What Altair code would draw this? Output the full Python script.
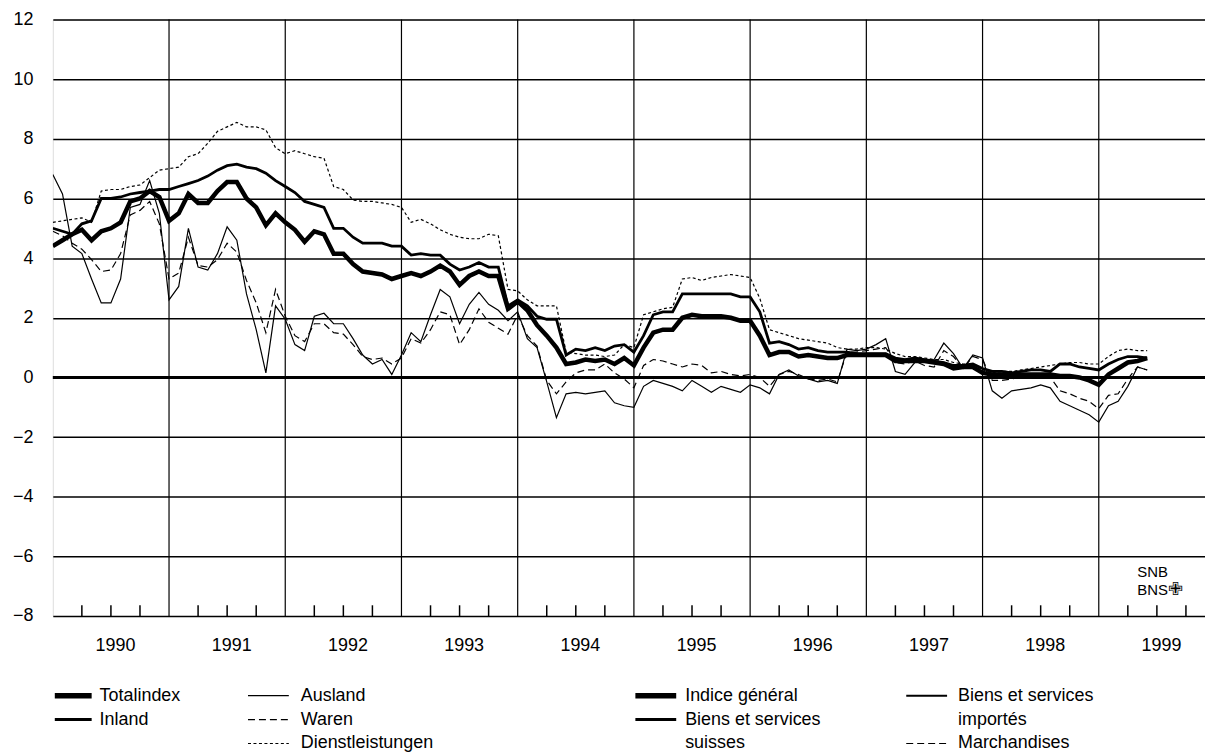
import altair as alt
import pandas as pd

# ---------------- data (monthly, Jan 1990 .. Jun 1999), % change vs. year ago
years = list(range(1990, 2000))

totalindex = [4.4,4.6,4.8,4.95,4.6,4.9,5.0,5.2,5.9,6.0,6.25,6.05,
              5.25,5.5,6.15,5.85,5.85,6.25,6.55,6.55,6.0,5.7,5.1,5.5,
              5.2,4.95,4.55,4.9,4.8,4.15,4.15,3.8,3.55,3.5,3.45,3.3,
              3.4,3.5,3.4,3.55,3.75,3.55,3.1,3.4,3.55,3.4,3.4,2.3,
              2.55,2.25,1.75,1.4,1.0,0.45,0.5,0.6,0.55,0.6,0.45,0.65,
              0.4,1.0,1.5,1.6,1.6,2.0,2.1,2.05,2.05,2.05,2.0,1.9,
              1.9,1.4,0.75,0.85,0.85,0.7,0.75,0.7,0.65,0.65,0.75,0.75,
              0.75,0.75,0.75,0.55,0.55,0.55,0.55,0.5,0.45,0.3,0.35,0.35,
              0.15,0.1,0.1,0.1,0.1,0.1,0.1,0.1,0.05,0.05,0.0,-0.1,
              -0.25,0.1,0.3,0.5,0.55,0.65]

inland = [5.0,4.9,4.8,5.15,5.25,6.0,6.0,6.05,6.15,6.2,6.25,6.3,
          6.3,6.4,6.5,6.6,6.75,6.95,7.1,7.15,7.05,7.0,6.85,6.6,
          6.4,6.2,5.9,5.8,5.7,5.0,5.0,4.7,4.5,4.5,4.5,4.4,
          4.4,4.1,4.15,4.1,4.1,3.8,3.6,3.7,3.85,3.7,3.7,2.4,
          2.6,2.4,2.05,1.95,1.95,0.75,0.95,0.9,1.0,0.9,1.05,1.1,
          0.85,1.4,2.1,2.2,2.2,2.8,2.8,2.8,2.8,2.8,2.8,2.7,
          2.7,2.2,1.15,1.2,1.1,0.95,1.0,0.9,0.85,0.85,0.85,0.8,
          0.8,0.8,0.8,0.65,0.6,0.65,0.6,0.55,0.5,0.4,0.4,0.45,
          0.3,0.2,0.2,0.15,0.2,0.25,0.25,0.2,0.45,0.45,0.35,0.3,
          0.25,0.45,0.6,0.7,0.7,0.65]

ausland = [6.8,6.15,4.4,4.15,3.3,2.5,2.5,3.3,5.7,5.8,6.6,5.5,
           2.6,3.05,5.0,3.7,3.6,4.15,5.05,4.6,2.8,1.6,0.15,2.4,
           1.95,1.1,0.9,2.05,2.15,1.8,1.8,1.3,0.75,0.45,0.6,0.1,
           0.75,1.5,1.2,2.1,2.95,2.7,1.8,2.45,2.85,2.45,2.25,1.9,
           2.2,1.3,1.0,-0.15,-1.35,-0.55,-0.5,-0.55,-0.5,-0.45,-0.85,-0.95,
           -1.0,-0.3,-0.1,-0.2,-0.3,-0.45,-0.1,-0.3,-0.5,-0.3,-0.4,-0.5,
           -0.25,-0.35,-0.55,0.1,0.25,0.05,-0.05,-0.15,-0.1,-0.2,0.95,0.9,
           0.95,1.1,1.3,0.2,0.1,0.5,0.55,0.6,1.15,0.8,0.3,0.75,
           0.65,-0.45,-0.7,-0.45,-0.4,-0.35,-0.25,-0.35,-0.8,-0.95,-1.1,-1.25,
           -1.5,-0.95,-0.8,-0.3,0.35,0.25]

waren = [4.9,4.75,4.5,4.3,3.95,3.55,3.6,4.15,5.45,5.6,5.9,5.15,
         3.3,3.5,4.7,3.75,3.7,3.95,4.5,4.2,3.25,2.5,1.5,2.95,
         2.05,1.4,1.2,1.8,1.8,1.5,1.45,1.1,0.7,0.6,0.65,0.45,
         0.65,1.3,1.15,1.6,2.2,2.1,1.1,1.6,2.3,1.85,1.65,1.45,
         2.1,1.4,1.05,-0.1,-0.55,-0.15,0.15,0.25,0.25,0.45,0.15,-0.05,
         -0.35,0.4,0.6,0.55,0.45,0.35,0.45,0.4,0.15,0.2,0.1,0.05,
         0.1,0.0,-0.3,0.1,0.2,0.1,-0.05,-0.1,-0.05,-0.15,0.85,0.85,
         0.9,0.95,1.0,0.5,0.45,0.55,0.4,0.35,0.9,0.7,0.3,0.7,
         0.6,-0.1,-0.1,-0.05,0.0,0.1,0.05,0.0,-0.45,-0.55,-0.7,-0.8,
         -1.05,-0.6,-0.55,-0.05,0.35,0.25]

dienst = [5.2,5.25,5.3,5.35,5.2,6.25,6.3,6.3,6.4,6.45,6.7,6.95,
          7.0,7.05,7.4,7.5,7.85,8.25,8.4,8.55,8.4,8.4,8.3,7.7,
          7.5,7.6,7.5,7.4,7.35,6.4,6.3,5.95,5.9,5.9,5.85,5.8,
          5.7,5.2,5.3,5.15,4.95,4.8,4.7,4.65,4.65,4.8,4.75,2.95,
          2.9,2.6,2.4,2.4,2.4,0.85,0.8,0.75,0.75,0.7,0.75,1.1,
          1.0,2.1,2.2,2.3,2.35,3.3,3.35,3.25,3.35,3.4,3.45,3.4,
          3.35,2.65,1.6,1.5,1.4,1.3,1.25,1.2,1.15,1.0,0.95,0.95,
          1.0,1.0,0.95,0.8,0.7,0.7,0.65,0.6,0.6,0.5,0.45,0.45,
          0.25,0.15,0.2,0.2,0.25,0.3,0.35,0.4,0.45,0.5,0.5,0.45,
          0.45,0.7,0.9,0.95,0.9,0.9]

y_ticks = list(range(-8, 13, 2))

legend_de = ["Totalindex", "Inland", "Ausland", "Waren", "Dienstleistungen"]
legend_fr = ["Indice général", "Biens et services", "suisses",
             "Biens et services", "importés", "Marchandises"]
logo_lines = ["SNB", "BNS"]

# ---------------- layout constants
W, H = 1157, 599
PAD_L, PAD_T = 45, 10
X0, Y0 = 8 + PAD_L, 8 + PAD_T   # page position of plot origin
PAD_B = 747 - PAD_T - H
FONT = "Liberation Sans, Arial, Helvetica, sans-serif"
X_MAX = 1999.914

n = len(totalindex)
t = [1990 + i / 12 for i in range(n)]

xs = alt.Scale(domain=[1990, X_MAX], nice=False, zero=False)
ys = alt.Scale(domain=[-8, 12], nice=False, zero=False)

x_axis = alt.Axis(values=[yy + 0.535 for yy in years],
                  labelExpr="format(floor(datum.value), 'd')",
                  ticks=False, domain=False, grid=False, title=None,
                  labelFontSize=18, labelPadding=21, labelColor="black",
                  labelFont=FONT)
y_axis = alt.Axis(values=y_ticks, ticks=False, domain=False, grid=True,
                  gridColor="black", gridWidth=1.3, gridOpacity=1,
                  title=None, labelFontSize=18, labelPadding=20,
                  labelColor="black", labelFont=FONT)

# vertical year gridlines
vgrid = alt.Chart(pd.DataFrame({"t": years[1:]})).mark_rule(
    color="black", strokeWidth=1.2
).encode(x=alt.X("t:Q", scale=xs, axis=x_axis))

# quarter ticks on the bottom edge, pointing inwards
qt = [yy + q / 4 for yy in years for q in (1, 2, 3) if yy + q / 4 < X_MAX]
ticks = alt.Chart(pd.DataFrame({"t": qt, "v": [-8] * len(qt),
                                "v2": [-7.64] * len(qt)})).mark_rule(
    color="black", strokeWidth=1.5
).encode(x=alt.X("t:Q", scale=xs, title=None),
         y=alt.Y("v:Q", scale=ys, axis=y_axis), y2="v2:Q")

zero = alt.Chart(pd.DataFrame({"v": [0]})).mark_rule(
    color="black", strokeWidth=3
).encode(y=alt.Y("v:Q", scale=ys, title=None))

df = pd.DataFrame({"t": t, "Totalindex": totalindex, "Inland": inland,
                   "Ausland": ausland, "Waren": waren,
                   "Dienstleistungen": dienst})


def series(col, width, dash=None):
    kw = dict(color="black", strokeWidth=width, clip=True)
    if dash:
        kw["strokeDash"] = dash
    return alt.Chart(df).mark_line(**kw).encode(
        x=alt.X("t:Q", scale=xs, title=None),
        y=alt.Y(col + ":Q", scale=ys, title=None))


lines = [
    series("Dienstleistungen", 1.2, [3, 2.5]),
    series("Waren", 1.2, [7, 4]),
    series("Ausland", 1.2),
    series("Inland", 2.8),
    series("Totalindex", 4.5),
]

# ---------------- legend (drawn in pixels below the plot)
one = pd.DataFrame({"k": [0]})


def leg_sym(x1, x2, yrow, width, dash=None):
    kw = dict(color="black", strokeWidth=width)
    if dash:
        kw["strokeDash"] = dash
    return alt.Chart(one).mark_rule(**kw).encode(
        x=alt.value(x1 - X0), x2=alt.value(x2 - X0), y=alt.value(yrow - Y0))


def leg_txt(x, yrow, text, size=18):
    return alt.Chart(one).mark_text(
        text=text, align="left", baseline="middle", fontSize=size,
        font=FONT, color="black"
    ).encode(x=alt.value(x - X0), y=alt.value(yrow - Y0))


r1, r2, r3 = 697, 721, 745
legend = [
    leg_sym(55, 92, r1, 5.5), leg_txt(100, r1, legend_de[0]),
    leg_sym(55, 92, r2, 3), leg_txt(100, r2, legend_de[1]),
    leg_sym(249, 290, r1, 1.2), leg_txt(302, r1, legend_de[2]),
    leg_sym(249, 290, r2, 1.2, [7, 4]), leg_txt(302, r2, legend_de[3]),
    leg_sym(249, 290, r3, 1.2, [3, 2.5]), leg_txt(302, r3, legend_de[4]),
    leg_sym(638, 679, r1, 5.5), leg_txt(688, r1, legend_fr[0]),
    leg_sym(638, 679, r2, 3), leg_txt(688, r2, legend_fr[1]),
    leg_txt(688, r3, legend_fr[2]),
    leg_sym(910, 951, r1, 2), leg_txt(962, r1, legend_fr[3]),
    leg_txt(962, r2, legend_fr[4]),
    leg_sym(910, 951, r3, 1.2, [7, 4]), leg_txt(962, r3, legend_fr[5]),
    leg_txt(1142, 573, logo_lines[0], 15),
    leg_txt(1142, 591, logo_lines[1], 15),
    leg_txt(1173, 591, "\u2719", 18),
]

chart = alt.layer(vgrid, ticks, zero, *lines, *legend).properties(
    width=W, height=H,
    autosize=alt.AutoSizeParams(type="none"),
    padding={"left": PAD_L, "top": PAD_T, "right": 0, "bottom": PAD_B},
).configure_view(stroke="black", strokeWidth=1.5).configure(
    background="white")

chart.save("out.html", embed_options={"renderer": "svg", "actions": False})
